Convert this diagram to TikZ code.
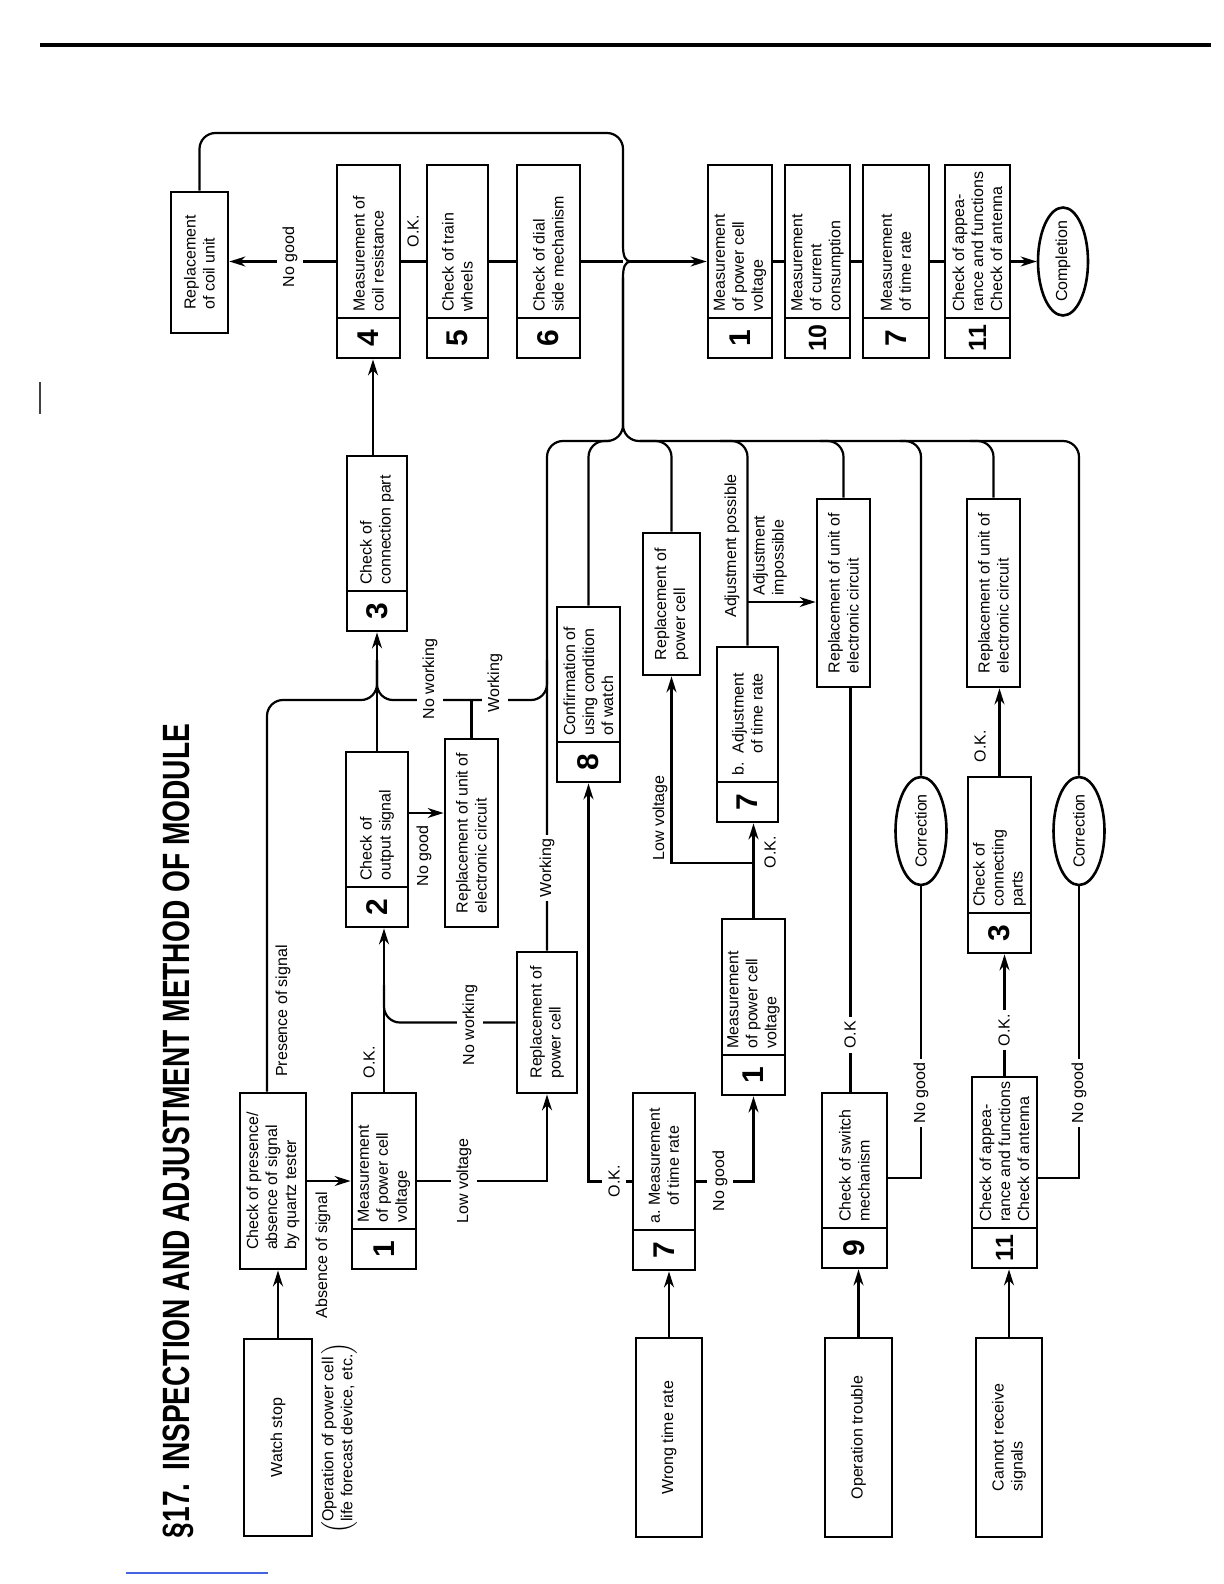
\documentclass[tikz,border=0pt]{standalone}
\usepackage{fontspec}
\setmainfont{Liberation Sans}
\usepackage{graphicx}
\usetikzlibrary{arrows.meta,shapes.geometric}
\definecolor{scanblue}{RGB}{70,100,225}
\tikzset{
  box/.style={draw, line width=1.4pt, inner sep=0pt},
  ell/.style={draw, ellipse, line width=1.3pt, inner sep=0pt},
  divider/.style={line width=1.1pt},
  txt/.style={rotate=90, align=left, font=\fontsize{8}{9.5}\selectfont, inner sep=0pt},
  num/.style={rotate=90, font=\fontsize{15}{15}\selectfont\bfseries, inner sep=0pt},
  lbl/.style={txt},
  xlbl/.style={txt, fill=white, inner xsep=2pt, inner ysep=3pt},
  ln/.style={line width=1.1pt},
  rc/.style={ln, rounded corners=8pt},
  arr/.style={ln, -{Stealth[length=8pt,width=5pt,inset=2.5pt]}},
}
\newcommand{\nbox}[7]{%
  \pgfmathsetmacro\bw{(#4-#2)*0.5}\pgfmathsetmacro\bh{(#5-#3)*0.5}%
  \node[box, minimum width=\bw pt, minimum height=\bh pt] (#1) at ({(#2+#4)/2},{(#3+#5)/2}) {};
  \draw[divider] ({#2},{#5-40}) -- ({#4},{#5-40});
  \node[num] (#1n) at ({(#2+#4)/2},{#5-20}) {#6};
  \node[txt, anchor=west] (#1t) at ({(#2+#4)/2},{#5-46}) {#7};
}
\newcommand{\ubox}[6]{%
  \pgfmathsetmacro\bw{(#4-#2)*0.5}\pgfmathsetmacro\bh{(#5-#3)*0.5}%
  \node[box, minimum width=\bw pt, minimum height=\bh pt] (#1) at ({(#2+#4)/2},{(#3+#5)/2}) {};
  \node[txt] (#1t) at (#1.center) {#6};
}
\begin{document}
\begin{tikzpicture}[x=0.5pt, y=-0.5pt]
\useasboundingbox (0,0) rectangle (1224,1584);
% page rule and scan marks
\draw[line width=2pt] (40,45) -- (1211,45);
\draw[line width=0.8pt, black!75] (40,382) -- (40,414);
\draw[line width=1pt, scanblue] (126,1573) -- (268,1573);
% title
\node[rotate=90, anchor=base, inner sep=0pt, font=\fontsize{19}{19}\selectfont\bfseries] (title) at (189,1131)
  {\scalebox{0.74}[1]{§17.\hspace{0.45em}INSPECTION AND ADJUSTMENT METHOD OF MODULE}};

% ---------- boxes ----------
\ubox{ws}{244}{1339}{312}{1536}{Watch stop}
\node[txt] (note) at (339,1438) {$\left(\vcenter{\hbox{\fontsize{8}{9.5}\selectfont\begin{tabular}{@{}l@{}}Operation of power cell\\life forecast device, etc.\end{tabular}}}\right)$};
\ubox{chk}{240}{1093}{306}{1269}{Check of presence/\\absence of signal\\by quartz tester}
\nbox{ma}{352}{1093}{416}{1269}{1}{Measurement\\of power cell\\voltage}
\nbox{cb}{346}{752}{408}{927}{2}{Check of\\output signal}
\ubox{rua}{445}{739}{498}{927}{Replacement of unit of\\electronic circuit}
\ubox{rpa}{517}{952}{577}{1093}{Replacement of\\power cell}
\nbox{cc}{347}{456}{407}{631}{3}{Check of\\connection part}
\nbox{mc}{337}{165}{400}{358}{4}{Measurement of\\coil resistance}
\ubox{coil}{171}{192}{228}{333}{Replacement\\of coil unit}
\nbox{tw}{427}{165}{488}{358}{5}{Check of train\\wheels}
\nbox{ds}{517}{165}{580}{358}{6}{Check of dial\\side mechanism}
\nbox{fa}{708}{165}{772}{358}{1}{Measurement\\of power cell\\voltage}
\nbox{fb}{785}{165}{850}{358}{{\fontsize{12.5}{12.5}\selectfont 10}}{Measurement\\of current\\consumption}
\nbox{fc}{863}{165}{929}{358}{7}{Measurement\\of time rate}
\nbox{fd}{945}{165}{1010}{358}{{\fontsize{12.5}{12.5}\selectfont 11}}{Check of appea-\\rance and functions\\Check of antenna}
\node[ell, minimum width=25pt, minimum height=54pt] (done) at (1063,261.5) {};
\node[txt] (donet) at (done.center) {Completion};
\nbox{cw}{557}{607}{620}{782}{8}{Confirmation of\\using condition\\of watch}
\ubox{rpb}{643}{533}{700}{675}{Replacement of\\power cell}
\nbox{adj}{717}{647}{778}{822}{7}{b.\ \ Adjustment\\\hphantom{b.\ \ }of time rate}
\nbox{mt}{633}{1093}{695}{1270}{7}{a.\ Measurement\\\hphantom{a.\ }of time rate}
\nbox{mb}{722}{919}{785}{1095}{1}{Measurement\\of power cell\\voltage}
\ubox{wtr}{636}{1338}{702}{1537}{Wrong time rate}
\ubox{rub}{817}{499}{870}{687}{Replacement of unit of\\electronic circuit}
\nbox{sw}{822}{1093}{887}{1268}{9}{Check of switch\\mechanism}
\ubox{ot}{825}{1338}{892}{1537}{Operation trouble}
\node[ell, minimum width=25.5pt, minimum height=54pt] (cora) at (921,831) {};
\node[txt] (corat) at (cora.center) {Correction};
\ubox{ruc}{967}{499}{1020}{687}{Replacement of unit of\\electronic circuit}
\nbox{cp}{968}{777}{1031}{953}{3}{Check of\\connecting\\parts}
\nbox{ca}{972}{1077}{1037}{1268}{{\fontsize{12.5}{12.5}\selectfont 11}}{Check of appea-\\rance and functions\\Check of antenna}
\node[ell, minimum width=25.5pt, minimum height=54pt] (corb) at (1079,831) {};
\node[txt] (corbt) at (corb.center) {Correction};
\ubox{crs}{976}{1338}{1042}{1537}{Cannot receive\\signals}

% ---------- helper coordinates ----------
\coordinate (ps) at ([xshift=-3pt]chk.north);
\coordinate (tip) at (631,261.5);
\coordinate (bx) at (623,261.5);
\coordinate (ccup) at ([xshift=-2pt]cc.north);
\coordinate (swup) at ([xshift=-2pt]sw.north);

% ---------- watch stop branch ----------
\draw[arr] (ws.north) -- (ws.north |- chk.south);
\draw[arr] (chk.east) -- (ma.west);
\draw[rc] (ps) -- (ps |- 0,700) -- (377,700) -- (377,660);
\draw[arr] (ma.north) -- (ma.north |- cb.south);
\draw[arr] (ma.east) -| (rpa.south);
\draw[rc] (rpa.west) -- (ma.north |- rpa.west) -- (ma.north |- 0,985);
\draw[arr] (cb.east |- 0,813) -- (rua.west |- 0,813);
\draw[arr] (cb.north) -- (cb.north |- cc.south);
\draw[ln] (rua.north) -- (rua.north |- 0,700);
\draw[rc] (377,660) -- (377,700) -- (rpa.north |- 0,700) -- (rpa.north |- 0,660);
\draw[arr] (ccup) -- (ccup |- mc.south);

% ---------- top row ----------
\draw[arr] (mc.west) -- (coil.east |- mc.west);
\draw[ln] (mc.east) -- (tw.west);
\draw[ln] (tw.east) -- (ds.west);
\draw[ln] (ds.east) -- (bx);
\draw[rc] (coil.north) -- (coil.north |- 0,133) -- (623,133) -- (623,245);
\draw[ln] (623,245) .. controls (623,256) and (625,261.5) .. (tip);
\draw[ln] (623,278) .. controls (623,267) and (625,261.5) .. (tip);
\draw[arr] (tip) -- (fa.west);
\draw[ln] (fa.east) -- (fb.west);
\draw[ln] (fb.east) -- (fc.west);
\draw[ln] (fc.east) -- (fd.west);
\draw[arr] (fd.east) -- (done.west);

% ---------- collecting brace ----------
\draw[rc] (rpa.north) -- (rpa.north |- 0,441) -- (623,441) -- (623,278);
\draw[rc] (corb.north) -- (corb.north |- 0,441) -- (623,441) -- (623,278);
\draw[rc] (cw.north) -- (cw.north |- 0,441) -- (610,441);
\draw[rc] (rpb.north) -- (rpb.north |- 0,441) -- (640,441);
\draw[rc] (adj.north) -- (adj.north |- 0,441) -- (720,441);
\draw[rc] (rub.north) -- (rub.north |- 0,441) -- (820,441);
\draw[rc] (cora.north) -- (cora.north |- 0,441) -- (900,441);
\draw[rc] (ruc.north) -- (ruc.north |- 0,441) -- (970,441);

% ---------- wrong time rate ----------
\draw[arr] (wtr.north) -- (wtr.north |- mt.south);
\draw[arr] (mt.west) -| (cw.south);
\draw[arr] (mt.east) -| (mb.south);
\draw[arr] (mb.north) -- (mb.north |- adj.south);
\draw[arr] (mb.north |- 0,863) -| (rpb.south);
\draw[arr] (adj.north |- 0,602) -- (rub.west |- 0,602);

% ---------- operation trouble ----------
\draw[arr] (ot.north) -- (ot.north |- sw.south);
\draw[ln] (swup) -- (swup |- rub.south);
\draw[ln] (sw.east |- 0,1178) -| (cora.south);

% ---------- cannot receive ----------
\draw[arr] (crs.north) -- (crs.north |- ca.south);
\draw[arr] (ca.north) -- (ca.north |- cp.south);
\draw[arr] (cp.north) -- (cp.north |- ruc.south);
\draw[ln] (ca.east |- 0,1178) -| (corb.south);

% ---------- labels (drawn last, over the lines) ----------
\node[lbl] (l1) at (323,1255) {Absence of signal};
\node[lbl] (l2) at (283,1011) {Presence of signal};
\node[lbl] (l3) at (369,1062) {O.K.};
\node[xlbl] (l4) at (464,1181) {Low voltage};
\node[xlbl] (l5) at (470,1025) {No working};
\node[lbl] (l6) at (424,856) {No good};
\node[xlbl] (l7) at (430,679) {No working};
\node[xlbl] (l8) at (495,683) {Working};
\node[xlbl] (l9) at (547,868) {Working};
\node[xlbl] (l10) at (290,257) {No good};
\node[lbl] (l11) at (413,231) {O.K.};
\node[xlbl] (l12) at (614,1181) {O.K.};
\node[xlbl] (l13) at (720,1181) {No good};
\node[lbl] (l14) at (770,852) {O.K.};
\node[lbl] (l15) at (660,818) {Low voltage};
\node[lbl] (l16) at (732,546) {Adjustment possible};
\node[txt, anchor=west] (l17) at (770,596) {Adjustment\\impossible};
\node[xlbl] (l18) at (850,1035) {O.K};
\node[xlbl] (l19) at (921,1093) {No good};
\node[xlbl] (l20) at (1004,1030) {O.K.};
\node[lbl] (l21) at (980,746) {O.K.};
\node[xlbl] (l22) at (1079,1093) {No good};
\end{tikzpicture}
\end{document}
